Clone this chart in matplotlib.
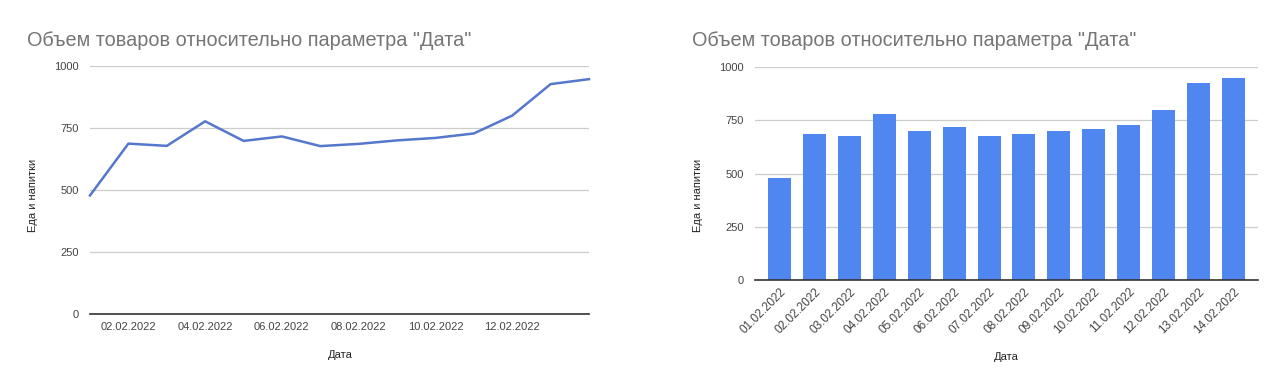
import numpy as np
import matplotlib
matplotlib.use("Agg")
import matplotlib.pyplot as plt

plt.rcParams['font.family'] = ['Liberation Sans', 'DejaVu Sans']

# data
dates = ["01.02.2022", "02.02.2022", "03.02.2022", "04.02.2022", "05.02.2022",
         "06.02.2022", "07.02.2022", "08.02.2022", "09.02.2022", "10.02.2022",
         "11.02.2022", "12.02.2022", "13.02.2022", "14.02.2022"]
volume = [478, 687, 678, 777, 698, 716, 677, 686, 700, 710, 728, 800, 927, 947]
yticks = [0, 250, 500, 750, 1000]

TITLE = 'Объем товаров относительно параметра "Дата"'
YLABEL = "Еда и напитки"
XLABEL = "Дата"

W, H = 1285, 390
fig = plt.figure(figsize=(W / 100, H / 100), dpi=100)

def px_axes(x0, x1, ytop, ybot):
    return fig.add_axes([x0 / W, 1 - ybot / H, (x1 - x0) / W, (ybot - ytop) / H])

def style(ax):
    ax.set_ylim(0, 1000)
    ax.set_yticks(yticks)
    ax.grid(axis="y", color="#cccccc", linewidth=0.9)
    ax.set_axisbelow(True)
    for s in ["top", "right", "left"]:
        ax.spines[s].set_visible(False)
    ax.spines["bottom"].set_color("#333333")
    ax.spines["bottom"].set_linewidth(1.2)
    ax.spines["bottom"].set_zorder(5)
    ax.tick_params(axis="both", length=0, labelsize=8, labelcolor="#444444")
    ax.tick_params(axis="y", pad=8)

x = np.arange(len(dates))

# left: line chart
ax1 = px_axes(90, 589, 66, 314)
style(ax1)
ax1.plot(x, volume, color="#5577cc", linewidth=1.8, zorder=3, clip_on=False)
ax1.set_xlim(0, len(dates) - 1)
ax1.set_xticks(x[1::2][:6])
ax1.set_xticklabels(dates[1::2][:6])
ax1.tick_params(axis="x", pad=6)

# right: bar chart
ax2 = px_axes(755, 1258, 67, 280)
style(ax2)
ax2.bar(x, volume, width=0.66, color="#4f86f0", zorder=3)
ax2.set_xlim(-0.7, len(dates) - 0.3)
ax2.set_xticks(x)
ax2.set_xticklabels(dates, rotation=45, ha="right", va="top", rotation_mode="anchor",
                    fontsize=8.5)
ax2.tick_params(axis="x", pad=4)

# titles and axis labels
for tx in (27, 692):
    fig.text(tx / W, 1 - 40 / H, TITLE, fontsize=14.3, color="#757575", va="center", ha="left")
fig.text(33 / W, 1 - 195 / H, YLABEL, rotation=90, fontsize=8, color="#222222", va="center", ha="center")
fig.text(698 / W, 1 - 195 / H, YLABEL, rotation=90, fontsize=8, color="#222222", va="center", ha="center")
fig.text(340 / W, 1 - 355 / H, XLABEL, fontsize=8, color="#222222", va="center", ha="center")
fig.text(1006 / W, 1 - 357 / H, XLABEL, fontsize=8, color="#222222", va="center", ha="center")

fig.savefig("out.png", dpi=100, facecolor="white")
